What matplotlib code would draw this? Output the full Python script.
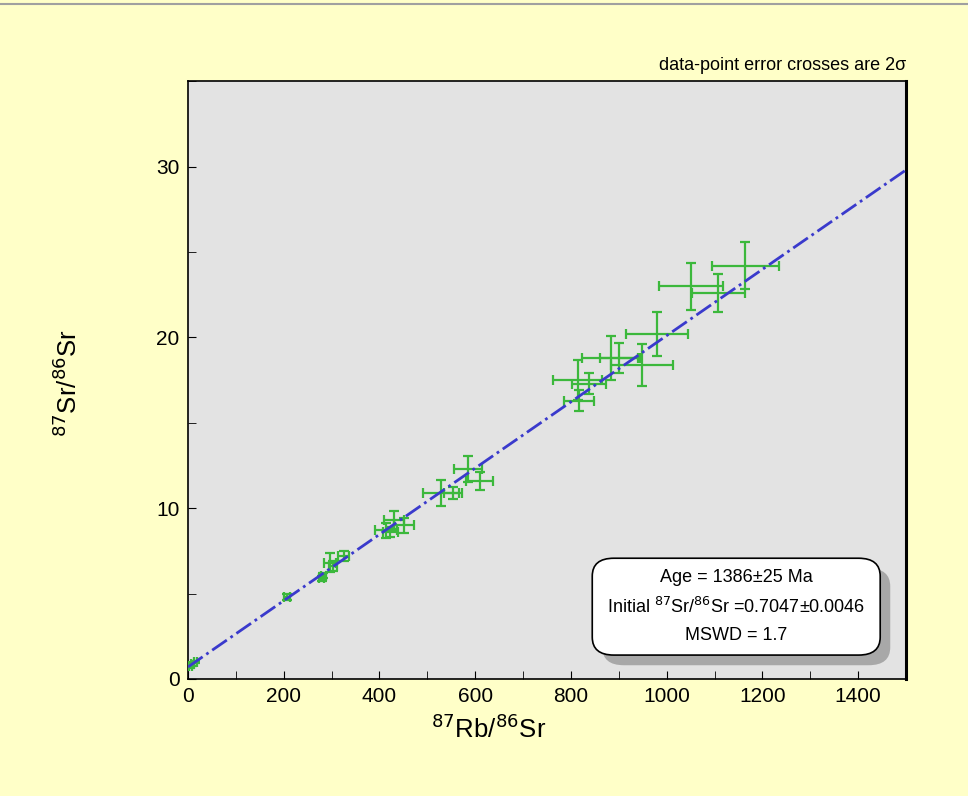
import numpy as np
import matplotlib.pyplot as plt
from matplotlib.patches import FancyBboxPatch
from matplotlib.ticker import MultipleLocator

plt.rcParams['font.family'] = ['Liberation Sans', 'DejaVu Sans']

# 87Rb/86Sr, 87Sr/86Sr and 2-sigma errors
rb = [5, 9, 15, 207, 279, 283, 297, 303, 325,
      413, 423, 430, 451, 528, 553, 585, 609,
      814, 817, 838, 884, 900, 949, 980, 1051, 1108, 1164]
sr = [0.75, 0.85, 1.0, 4.8, 5.9, 6.05, 6.8, 6.6, 7.2,
      8.7, 8.6, 9.3, 9.0, 10.9, 10.9, 12.3, 11.6,
      17.5, 16.3, 17.3, 18.8, 18.8, 18.4, 20.2, 23.0, 22.6, 24.2]
rb_err = [3, 3, 3, 6, 6, 6, 12, 8, 12,
          23, 15, 21, 21, 38, 19, 29, 28,
          51, 31, 36, 61, 40, 65, 65, 67, 56, 70]
sr_err = [0.08, 0.08, 0.08, 0.15, 0.15, 0.15, 0.55, 0.3, 0.3,
          0.46, 0.3, 0.53, 0.44, 0.75, 0.34, 0.75, 0.54,
          1.17, 0.6, 0.6, 1.29, 0.9, 1.23, 1.29, 1.37, 1.1, 1.37]

# isochron fit
intercept = 0.7047
slope = 0.0194
x_range = [0, 1500]

fig = plt.figure(figsize=(9.68, 7.96), dpi=100)
fig.patch.set_facecolor('#ffffc8')
ax = fig.add_axes([0.1942, 0.147, 0.7418, 0.751])
ax.set_facecolor('#e3e3e3')

ax.errorbar(rb, sr, xerr=rb_err, yerr=sr_err, fmt='none', ecolor='#3cb83c',
            elinewidth=1.6, capsize=3.5, capthick=1.6, zorder=3)
xs = np.array(x_range)
ax.plot(xs, intercept + slope * xs, color='#3a3acc', lw=2, ls='-.', zorder=4)

ax.set_xlim(0, 1500)
ax.set_ylim(0, 35)
ax.xaxis.set_major_locator(MultipleLocator(200))
ax.xaxis.set_minor_locator(MultipleLocator(100))
ax.yaxis.set_major_locator(MultipleLocator(10))
ax.yaxis.set_minor_locator(MultipleLocator(5))
ax.tick_params(which='both', direction='in', labelsize=15, pad=6, length=6)
for s in ax.spines.values():
    s.set_linewidth(1.2)
ax.spines['right'].set_linewidth(2.2)

ax.set_xlabel('$^{87}$Rb/$^{86}$Sr', fontsize=18.5)
ax.xaxis.set_label_coords(0.418, -0.06)
ax.set_ylabel('$^{87}$Sr/$^{86}$Sr', fontsize=18.5)
ax.yaxis.set_label_coords(-0.148, 0.495)

ax.text(1.0, 1.012, 'data-point error crosses are 2σ', transform=ax.transAxes,
        ha='right', va='bottom', fontsize=13)

# results box with shadow
bx, by, bw, bh = 0.563, 0.04, 0.401, 0.162
shadow = FancyBboxPatch((bx + 0.014, by - 0.017), bw, bh, transform=ax.transAxes,
                        boxstyle='round,pad=0,rounding_size=0.03',
                        fc='#a8a8a8', ec='none', zorder=5)
box = FancyBboxPatch((bx, by), bw, bh, transform=ax.transAxes,
                     boxstyle='round,pad=0,rounding_size=0.03',
                     fc='white', ec='black', lw=1.2, zorder=6)
ax.add_patch(shadow)
ax.add_patch(box)
lines = ['Age = 1386±25 Ma',
         'Initial $^{87}$Sr/$^{86}$Sr =0.7047±0.0046',
         'MSWD = 1.7']
for i, t in enumerate(lines):
    ax.text(bx + bw / 2, by + bh * (0.8 - 0.3 * i), t, transform=ax.transAxes,
            ha='center', va='center', fontsize=13, zorder=7)

fig.add_artist(plt.Line2D([0, 1], [0.995, 0.995], color='#a0a0a0', lw=1.5))

fig.savefig('out.png', dpi=100, facecolor=fig.get_facecolor())
